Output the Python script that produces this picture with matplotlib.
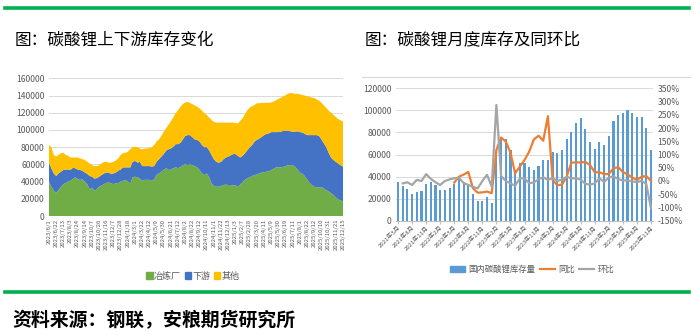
import numpy as np
import matplotlib
matplotlib.use("Agg")
import matplotlib.pyplot as plt
from matplotlib.lines import Line2D
from matplotlib.patches import Patch

plt.rcParams["font.family"] = ["Noto Sans CJK SC", "DejaVu Sans"]
plt.rcParams["axes.unicode_minus"] = False

# ── left chart data: weekly stacked inventory (cumulative tops, tonnes) ──────
left_labels = [
    "2023/6/1", "2023/6/22", "2023/7/13", "2023/8/3", "2023/8/24", "2023/9/14",
    "2023/10/7", "2023/10/26", "2023/11/16", "2023/12/7", "2023/12/28", "2024/1/18",
    "2024/3/1", "2024/3/22", "2024/4/12", "2024/5/9", "2024/5/30", "2024/6/21",
    "2024/7/12", "2024/8/2", "2024/8/22", "2024/9/12", "2024/10/11", "2024/11/1",
    "2024/11/22", "2024/12/13", "2025/1/3", "2025/2/7", "2025/2/28", "2025/3/20",
    "2025/4/11", "2025/5/9", "2025/5/30", "2025/6/19", "2025/7/11", "2025/8/1",
    "2025/8/22", "2025/9/12", "2025/10/10", "2025/10/31", "2025/11/21", "2025/12/15",
]

smelter = [
    40000, 34000, 29500, 27000, 30000, 34000, 37000, 38500, 40000, 41000,
    43000, 45000, 43000, 42000, 42500, 40000, 37000, 31000, 33000, 29500,
    31000, 34000, 35500, 37000, 38500, 39500, 38000, 37000, 38000, 38500,
    40000, 41000, 42000, 40000, 38000, 45000, 45700, 45000, 43500, 41000,
    42000, 42000, 42000, 41000, 42500, 47500, 49500, 51500, 53500, 55500,
    53500, 54000, 55500, 56500, 55500, 57000, 59000, 60500, 59000, 60000,
    59000, 58000, 56500, 53500, 49500, 47500, 49500, 45000, 38000, 35000,
    34000, 34000, 35000, 36000, 36500, 36000, 36000, 35500, 35500, 34000,
    36500, 39500, 42000, 44000, 45000, 46500, 47500, 48500, 49500, 50500,
    51000, 51500, 52000, 53500, 55000, 56500, 56500, 56500, 57000, 58000,
    59000, 59000, 59000, 57000, 54000, 50500, 49000, 46500, 42500, 38500,
    36000, 34000, 33500, 33500, 33500, 32000, 30000, 28500, 26500, 24500,
    21500, 19500, 18000, 17000,
]

smelter_down = [
    62000, 55500, 49500, 46500, 49500, 51500, 53500, 54000, 54000, 53500,
    56000, 55500, 54000, 53500, 52500, 50500, 49000, 46500, 45700, 43500,
    44000, 45700, 47700, 49500, 50500, 50500, 49000, 49500, 50500, 52700,
    54000, 56500, 56500, 56500, 56500, 63000, 64000, 62000, 63000, 58000,
    58000, 58000, 58000, 57500, 58000, 63000, 66000, 69000, 72000, 76000,
    77500, 78500, 80500, 83500, 83500, 85000, 89000, 93000, 94000, 94000,
    91500, 89000, 88500, 86500, 82500, 80000, 80000, 76500, 71000, 66000,
    63000, 62000, 63000, 66000, 68000, 69000, 70500, 72000, 72000, 70000,
    68000, 70000, 73000, 76500, 80000, 82500, 86500, 88500, 90000, 92000,
    94000, 95500, 96000, 97500, 97500, 97500, 97500, 98000, 99000, 99000,
    99000, 98500, 98000, 98000, 98500, 97500, 97000, 95500, 94000, 94000,
    94000, 94000, 94000, 93000, 89000, 84500, 80000, 73500, 68000, 65000,
    63000, 61000, 59000, 57500,
]

total = [
    82500, 80000, 71000, 69000, 71000, 73000, 73500, 71000, 70000, 68000,
    68000, 68000, 68000, 67000, 66000, 65000, 63000, 61000, 59000, 58000,
    58000, 59000, 61000, 63000, 63000, 62000, 62000, 63000, 64500, 67000,
    71000, 73000, 73500, 74500, 77500, 80000, 80500, 80000, 78500, 77500,
    78500, 78500, 79000, 80000, 82500, 86500, 89000, 93000, 98000, 102000,
    106000, 110000, 114500, 119500, 123000, 127000, 130000, 132000, 132500, 131500,
    130000, 128500, 127000, 125000, 122500, 119500, 117500, 114500, 111500, 109500,
    108500, 108500, 108500, 108500, 108500, 108500, 108500, 108500, 108000, 107500,
    110500, 113500, 118500, 123000, 126000, 127500, 129000, 131000, 131000, 131500,
    131500, 131500, 131500, 132000, 133000, 134500, 136000, 137500, 139000, 140500,
    142000, 143000, 142500, 142000, 142000, 141500, 140500, 140000, 139000, 138500,
    137500, 137000, 135500, 134000, 131500, 128500, 125500, 122500, 120000, 117500,
    115000, 112500, 111000, 110000,
]

# ── right chart data: monthly inventory, YoY and MoM (%) ─────────────────────
months = [f"{2021 + (4 + i) // 12}年{(4 + i) % 12 + 1}月" for i in range(55)]

stock = [
    35000, 31000, 29000, 24000, 26000, 26500, 33500, 35000, 32500, 28000,
    28000, 30000, 33500, 38500, 35500, 33500, 24000, 18000, 18000, 21500,
    16000, 62000, 74000, 74000, 64000, 46000, 52000, 52000, 48500, 46000,
    49500, 55000, 55000, 62000, 61500, 64000, 74000, 80000, 88500, 93000,
    83000, 71500, 65000, 71500, 68500, 77000, 90000, 96000, 98000, 100000,
    98000, 94000, 94000, 84000, 64000,
]

yoy = [None] * 12 + [
    -6, 16, 24, 34, -28, -44, -43, -40, -46, 117,
    164, 149, 107, 29, 54, 79, 111, 157, 171, 152,
    245, 4, -16, -14, 16, 69, 70, 70, 72, 60,
    33, 33, 26, 26, 48, 52, 34, 25, 13, 4,
    16, 19, 0,
]

mom = [None] + [
    -9, -5, -15, 4, 0, 26, 8, -5, -15, 0,
    6, 10, 12, -8, -15, -22, -28, 0, 23, -21,
    287, 19, 0, -9, -18, 10, 10, -9, -5, 6,
    14, 4, 11, 0, 5, 16, 10, 10, 5, -11,
    -14, -9, 10, -4, 13, 17, 7, 2, 2, -2,
    -4, 0, -11, -103,
]

# ── figure ────────────────────────────────────────────────────────────────────
W, H = 694, 335
fig = plt.figure(figsize=(W / 100, H / 100), dpi=100)

fig.add_artist(Line2D([5 / W, 689 / W], [1 - 8 / H] * 2, color="#00B050", lw=2.6))
fig.add_artist(Line2D([5 / W, 689 / W], [1 - 292 / H] * 2, color="#00B050", lw=2.6))
fig.add_artist(Line2D([362 / W, 690 / W], [1 - 77 / H] * 2, color="#D9D9D9", lw=0.8))

fig.text(15 / W, 1 - 40 / H, "图：碳酸锂上下游库存变化", fontsize=12, va="center")
fig.text(365 / W, 1 - 40 / H, "图：碳酸锂月度库存及同环比", fontsize=12, va="center")
fig.text(12 / W, 1 - 321 / H, "资料来源：钢联，安粮期货研究所", fontsize=13.6,
         fontweight="bold", va="center")

tick_col = "#595959"

# ── left: stacked area ───────────────────────────────────────────────────────
ax1 = fig.add_axes([49 / W, 1 - 216 / H, 294 / W, 137.7 / H])
x = np.arange(len(total))
sm = np.array(smelter)
down = np.array(smelter_down) - sm
other = np.array(total) - np.array(smelter_down)
ax1.stackplot(x, sm, down, other, colors=["#70AD47", "#4472C4", "#FFC000"],
              linewidth=0)
ax1.set_xlim(0, len(total) - 1)
ax1.set_ylim(0, 160000)
ax1.set_yticks(range(0, 160001, 20000))
ax1.set_xticks(x[::3])
ax1.set_xticklabels(left_labels, rotation=90, fontsize=4.3, color=tick_col)
ax1.tick_params(axis="y", labelsize=6.2, colors=tick_col, length=0, pad=3)
ax1.tick_params(axis="x", length=0, pad=2)
ax1.grid(axis="y", color="#D9D9D9", lw=0.7)
ax1.set_axisbelow(True)
for s in ax1.spines.values():
    s.set_visible(False)
ax1.legend(handles=[Patch(color="#70AD47", label="冶炼厂"),
                    Patch(color="#4472C4", label="下游"),
                    Patch(color="#FFC000", label="其他")],
           loc="center", bbox_to_anchor=(0.49, (1 - 276 / H - (1 - 216 / H)) / (137.7 / H)),
           ncol=3, frameon=False, fontsize=6.5, handlelength=0.7, handleheight=0.7,
           handletextpad=0.15, columnspacing=0.4, labelcolor=tick_col)

# ── right: bars + yoy/mom lines ──────────────────────────────────────────────
ax2 = fig.add_axes([395.7 / W, 1 - 220.7 / H, 257.6 / W, 132.4 / H])
xm = np.arange(len(stock))
ax2.bar(xm, stock, width=0.45, color="#5B9BD5", zorder=2)
ax2.set_xlim(-0.5, len(stock) - 0.5)
ax2.set_ylim(0, 120000)
ax2.set_yticks(range(0, 120001, 20000))
ax2.set_xticks(xm[::3])
ax2.set_xticklabels(months[::3], rotation=45, ha="right", rotation_mode="anchor",
                    fontsize=4.3, color=tick_col)
ax2.tick_params(axis="y", labelsize=6.2, colors=tick_col, length=0, pad=3)
ax2.tick_params(axis="x", length=2, color="#BFBFBF", pad=1)
ax2.grid(axis="y", color="#D9D9D9", lw=0.7)
ax2.set_axisbelow(True)
for k, s in ax2.spines.items():
    s.set_visible(k == "bottom")
ax2.spines["bottom"].set_color("#BFBFBF")

ax3 = ax2.twinx()
yoy_arr = np.array([np.nan if v is None else v for v in yoy], dtype=float) / 100
mom_arr = np.array([np.nan if v is None else v for v in mom], dtype=float) / 100
ax3.plot(xm, yoy_arr, color="#ED7D31", lw=1.6, zorder=3)
ax3.plot(xm, mom_arr, color="#A5A5A5", lw=1.6, zorder=3)
ax3.set_ylim(-1.5, 3.5)
ax3.set_yticks(np.arange(-1.5, 3.51, 0.5))
ax3.set_yticklabels([f"{v:.0f}%" for v in np.arange(-150, 351, 50)])
ax3.tick_params(axis="y", labelsize=6.2, colors=tick_col, length=0, pad=3)
for s in ax3.spines.values():
    s.set_visible(False)

ax2.legend(handles=[Patch(color="#5B9BD5", label="国内碳酸锂库存量"),
                    Line2D([], [], color="#ED7D31", lw=1.6, label="同比"),
                    Line2D([], [], color="#A5A5A5", lw=1.6, label="环比")],
           loc="center", bbox_to_anchor=(0.53, (1 - 269 / H - (1 - 220.7 / H)) / (132.4 / H)),
           ncol=3, frameon=False, fontsize=6, handlelength=1.8, handleheight=0.7,
           handletextpad=0.4, columnspacing=0.5, labelcolor=tick_col)

fig.savefig("out.png", dpi=100)
